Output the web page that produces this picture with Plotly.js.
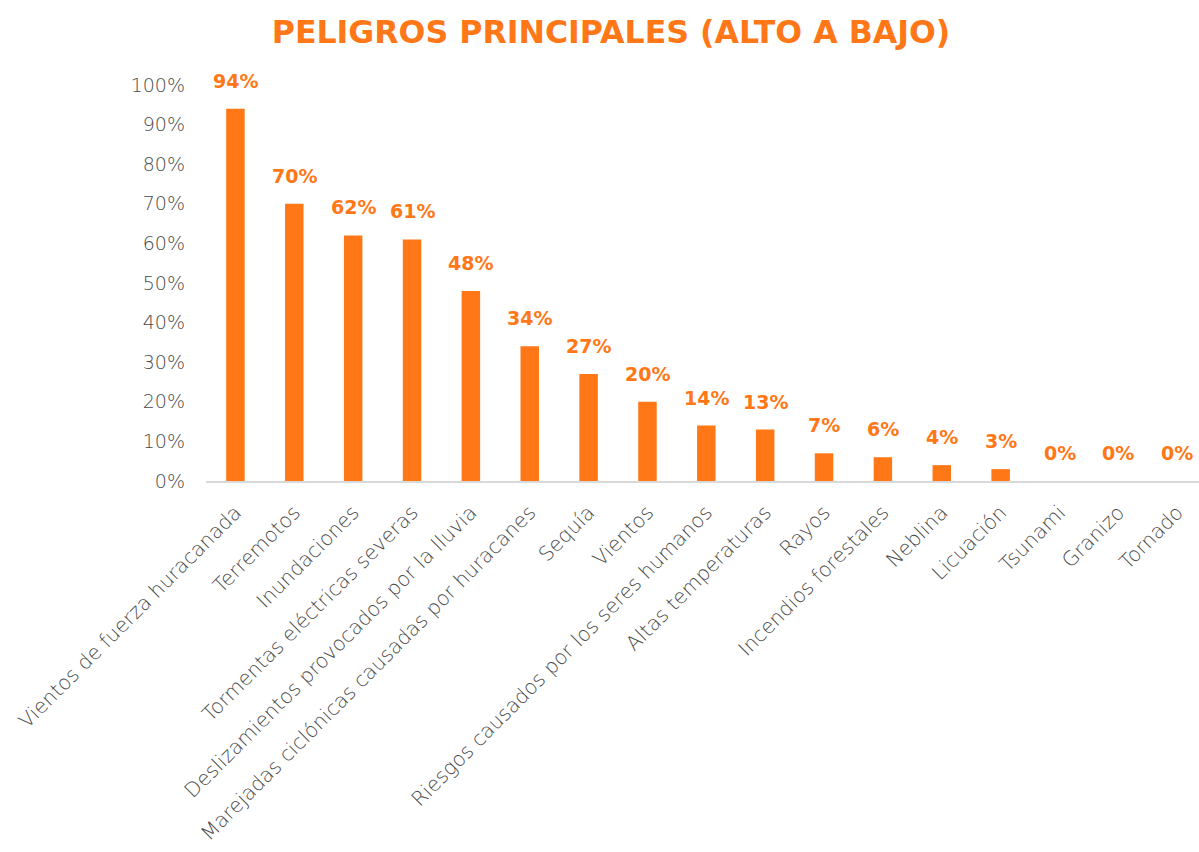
<!DOCTYPE html>
<html>
<head>
<meta charset="utf-8">
<script src="https://cdn.plot.ly/plotly-3.0.1.min.js"></script>
<style>html,body{margin:0;padding:0;background:#fff;}#chart{width:1199px;height:852px;}</style>
</head>
<body>
<div id="chart"></div>
<script>
const categories = [
  "Vientos de fuerza huracanada",
  "Terremotos",
  "Inundaciones",
  "Tormentas eléctricas severas",
  "Deslizamientos provocados por la lluvia",
  "Marejadas ciclónicas causadas por huracanes",
  "Sequía",
  "Vientos",
  "Riesgos causados por los seres humanos",
  "Altas temperaturas",
  "Rayos",
  "Incendios forestales",
  "Neblina",
  "Licuación",
  "Tsunami",
  "Granizo",
  "Tornado"
];
const values = [0.94, 0.70, 0.62, 0.61, 0.48, 0.34, 0.27, 0.20, 0.14, 0.13, 0.07, 0.06, 0.04, 0.03, 0.00, 0.00, 0.00];
const yTickValues = [0, 0.1, 0.2, 0.3, 0.4, 0.5, 0.6, 0.7, 0.8, 0.9, 1.0];

const ORANGE = '#ff7716';
const GRAY = '#4a4a4a';
const FONT = 'DejaVu Sans';

const trace = {
  type: 'bar',
  x: categories,
  y: values,
  marker: {color: ORANGE},
  hoverinfo: 'x+y'
};

const annotations = categories.map((c, i) => ({
  x: c,
  y: values[i],
  xref: 'x',
  yref: 'y',
  text: Math.round(values[i] * 100) + '%',
  showarrow: false,
  yanchor: 'bottom',
  yshift: 15,
  font: {family: FONT, size: 19, color: ORANGE, weight: 'bold'}
}));

const layout = {
  width: 1199,
  height: 852,
  paper_bgcolor: '#ffffff',
  plot_bgcolor: '#ffffff',
  margin: {l: 206, r: 0, t: 85, b: 371},
  bargap: 0.686,
  showlegend: false,
  title: {
    text: '<b>PELIGROS PRINCIPALES (ALTO A BAJO)</b>',
    x: 0.5096,
    xanchor: 'center',
    y: 0.962,
    yanchor: 'middle',
    font: {family: FONT, size: 31.6, color: ORANGE}
  },
  xaxis: {
    type: 'category',
    range: [-0.5, 16.37],
    showline: true,
    linecolor: '#d9d9d9',
    linewidth: 1.5,
    showgrid: false,
    zeroline: false,
    tickangle: -45,
    ticks: 'outside',
    ticklen: 10,
    tickcolor: 'rgba(0,0,0,0)',
    tickfont: {family: FONT, size: 20.3, color: GRAY, weight: 300},
    fixedrange: true
  },
  yaxis: {
    range: [0, 1],
    tickvals: yTickValues,
    tickformat: '.0%',
    showgrid: false,
    zeroline: false,
    showline: false,
    ticks: '',
    ticklabelstandoff: 20,
    tickfont: {family: FONT, size: 19, color: GRAY, weight: 300},
    fixedrange: true
  },
  annotations: annotations
};

Plotly.newPlot('chart', [trace], layout, {displayModeBar: false, staticPlot: true});
</script>
</body>
</html>
